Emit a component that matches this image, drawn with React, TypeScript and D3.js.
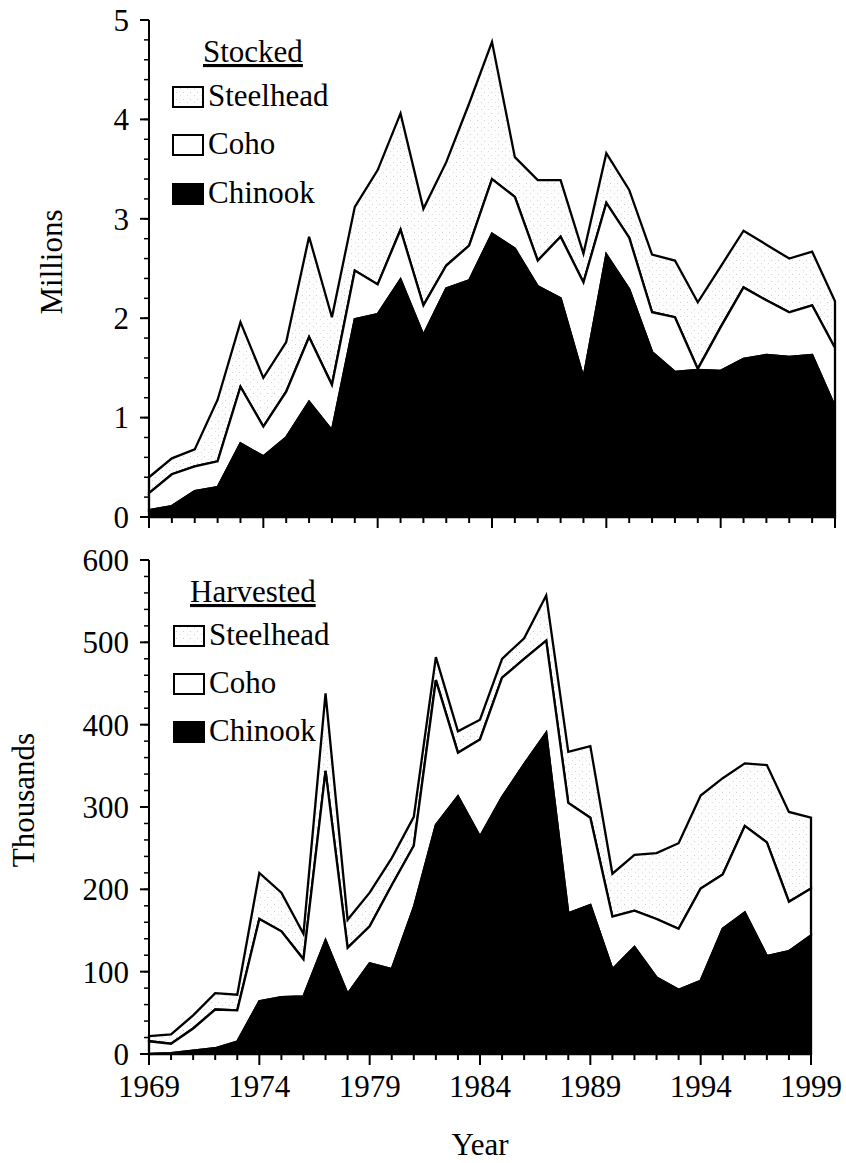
import * as d3 from 'd3';

// Salmonids stocked and harvested, 1969-1999
const years = [
  1969, 1970, 1971, 1972, 1973, 1974, 1975, 1976, 1977, 1978, 1979,
  1980, 1981, 1982, 1983, 1984, 1985, 1986, 1987, 1988, 1989,
  1990, 1991, 1992, 1993, 1994, 1995, 1996, 1997, 1998, 1999,
];

// Stocked, millions
const stockedChinook = [
  0.07, 0.11, 0.26, 0.30, 0.74, 0.61, 0.80, 1.16, 0.87, 1.99, 2.04,
  2.39, 1.83, 2.30, 2.38, 2.85, 2.70, 2.32, 2.20, 1.40, 2.64,
  2.29, 1.66, 1.46, 1.48, 1.47, 1.59, 1.63, 1.61, 1.63, 1.11,
];
const stockedCoho = [
  0.17, 0.32, 0.25, 0.26, 0.57, 0.30, 0.46, 0.65, 0.46, 0.49, 0.30,
  0.50, 0.30, 0.23, 0.35, 0.55, 0.52, 0.26, 0.62, 0.96, 0.52,
  0.52, 0.40, 0.55, 0.01, 0.44, 0.72, 0.55, 0.45, 0.50, 0.59,
];
const stockedSteelhead = [
  0.16, 0.16, 0.17, 0.62, 0.65, 0.49, 0.50, 1.01, 0.68, 0.64, 1.15,
  1.17, 0.97, 1.04, 1.43, 1.38, 0.40, 0.81, 0.57, 0.29, 0.50,
  0.48, 0.58, 0.57, 0.67, 0.61, 0.57, 0.56, 0.54, 0.54, 0.47,
];

// Harvested, thousands
const harvestedChinook = [
  0, 1, 4, 7, 15, 64, 69, 70, 138, 73, 110,
  103, 178, 278, 313, 264, 312, 352, 390, 171, 181,
  103, 130, 93, 78, 89, 152, 172, 119, 125, 144,
];
const harvestedCoho = [
  15.5, 11.5, 27, 47, 38, 100, 80, 45, 206, 56, 45,
  102, 75, 176, 53, 118, 145, 128, 112, 134, 106,
  64, 44, 71, 74, 112, 66, 105, 138, 60, 57,
];
const harvestedSteelhead = [
  6.2, 11.3, 16, 20, 19, 56, 47, 31, 94, 34, 41,
  33, 35, 28, 26, 24, 23, 25, 55, 62, 87,
  52, 68, 80, 104, 113, 117, 76, 94, 109, 86,
];

const stockedTicks = [0, 1, 2, 3, 4, 5];
const harvestedTicks = [0, 100, 200, 300, 400, 500, 600];
const yearLabels = [1969, 1974, 1979, 1984, 1989, 1994, 1999];

const FONT = '"Liberation Serif", "Times New Roman", Times, serif';
const FS = 31;

interface PanelProps {
  title: string;
  chinook: number[];
  coho: number[];
  steelhead: number[];
  xRange: [number, number];
  yRange: [number, number];
  yMax: number;
  ticks: number[];
  minorStep: number;
  yLabel: string;
  yLabelPos: [number, number];
  showYears: boolean;
  legend: { boxX: number; titleX: number; titleY: number; rows: number[] };
}

function Panel(p: PanelProps) {
  const x = d3.scaleLinear().domain([1969, 1999]).range(p.xRange);
  const y = d3.scaleLinear().domain([0, p.yMax]).range(p.yRange);
  const rows = years.map((yr, i) => ({
    year: yr,
    chinook: p.chinook[i],
    coho: p.coho[i],
    steelhead: p.steelhead[i],
  }));
  const stack = d3.stack<any>().keys(['chinook', 'coho', 'steelhead'])(rows);
  const area = d3.area<any>()
    .x((d) => x(d.data.year))
    .y0((d) => y(d[0]))
    .y1((d) => y(d[1]));

  const fills: Record<string, string> = {
    chinook: '#000',
    coho: '#fff',
    steelhead: 'url(#stipple)',
  };

  const minor = d3.range(0, p.yMax + 1e-6, p.minorStep);
  const [xa, xb] = p.xRange;
  const yBase = p.yRange[0];

  const legendItems = [
    { name: 'Steelhead', fill: 'url(#stipple)' },
    { name: 'Coho', fill: '#fff' },
    { name: 'Chinook', fill: '#000' },
  ];

  return (
    <g>
      {/* stacked areas, top layer first */}
      {[...stack].reverse().map((layer) => (
        <path
          key={layer.key}
          d={area(layer) || ''}
          fill={fills[layer.key]}
          stroke="#000"
          strokeWidth={2.3}
          strokeLinejoin="miter"
        />
      ))}

      {/* y axis */}
      <line x1={xa} x2={xa} y1={yBase} y2={p.yRange[1]} stroke="#000" strokeWidth={2} />
      {minor.map((v) => (
        <line key={'m' + v} x1={xa - 5} x2={xa} y1={y(v)} y2={y(v)} stroke="#000" strokeWidth={1.5} />
      ))}
      {p.ticks.map((v) => (
        <g key={'t' + v}>
          <line x1={xa - 9} x2={xa} y1={y(v)} y2={y(v)} stroke="#000" strokeWidth={2} />
          <text x={xa - 20} y={y(v)} dy="0.35em" textAnchor="end" fontSize={FS} fontFamily={FONT}>
            {v}
          </text>
        </g>
      ))}

      {/* x axis */}
      <line x1={xa} x2={xb} y1={yBase} y2={yBase} stroke="#000" strokeWidth={2} />
      {years.map((yr) => {
        const major = (yr - 1969) % 5 === 0;
        return (
          <line key={'x' + yr} x1={x(yr)} x2={x(yr)} y1={yBase} y2={yBase + (major ? 11 : 6)}
            stroke="#000" strokeWidth={2} />
        );
      })}
      {p.showYears && yearLabels.map((yr) => (
        <text key={'l' + yr} x={x(yr)} y={yBase + 43} textAnchor="middle" fontSize={FS} fontFamily={FONT}>
          {yr}
        </text>
      ))}

      {/* axis title */}
      <text
        transform={`translate(${p.yLabelPos[0]},${p.yLabelPos[1]}) rotate(-90)`}
        textAnchor="middle"
        fontSize={FS}
        fontFamily={FONT}
      >
        {p.yLabel}
      </text>

      {/* legend */}
      <text x={p.legend.titleX} y={p.legend.titleY} fontSize={FS} fontFamily={FONT}
        style={{ textDecoration: 'underline' }}>
        {p.title}
      </text>
      {legendItems.map((it, i) => (
        <g key={it.name}>
          <rect x={p.legend.boxX} y={p.legend.rows[i] - 19} width={30} height={20}
            fill={it.fill} stroke="#000" strokeWidth={2} />
          <text x={p.legend.boxX + 35} y={p.legend.rows[i]} fontSize={FS} fontFamily={FONT}>
            {it.name}
          </text>
        </g>
      ))}
    </g>
  );
}

export default function App() {
  return (
    <div style={{ position: 'absolute', left: 0, top: 0 }}>
      <svg width={846} height={1163} style={{ display: 'block', background: '#fff' }}>
        <defs>
          <pattern id="stipple" patternUnits="userSpaceOnUse" width={7} height={7}>
            <rect width={7} height={7} fill="#fdfdfd" />
            <rect x={1} y={1} width={1} height={1} fill="#d0d0d0" />
            <rect x={5} y={4} width={1} height={1} fill="#dcdcdc" />
          </pattern>
        </defs>
        <Panel
          title="Stocked"
          chinook={stockedChinook}
          coho={stockedCoho}
          steelhead={stockedSteelhead}
          xRange={[149, 835]}
          yRange={[517, 20]}
          yMax={5}
          ticks={stockedTicks}
          minorStep={0.2}
          yLabel="Millions"
          yLabelPos={[62, 262]}
          showYears={false}
          legend={{ boxX: 173, titleX: 203, titleY: 62, rows: [106, 154, 203] }}
        />
        <Panel
          title="Harvested"
          chinook={harvestedChinook}
          coho={harvestedCoho}
          steelhead={harvestedSteelhead}
          xRange={[149, 811]}
          yRange={[1054, 560]}
          yMax={600}
          ticks={harvestedTicks}
          minorStep={20}
          yLabel="Thousands"
          yLabelPos={[34, 800]}
          showYears={true}
          legend={{ boxX: 174, titleX: 190, titleY: 602, rows: [645, 693, 741] }}
        />
        <text x={480} y={1155} textAnchor="middle" fontSize={FS} fontFamily={FONT}>Year</text>
      </svg>
    </div>
  );
}
